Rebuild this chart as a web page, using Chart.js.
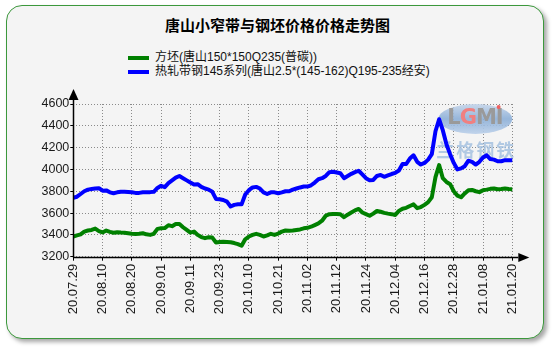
<!DOCTYPE html>
<html>
<head>
<meta charset="utf-8">
<script src="https://cdn.jsdelivr.net/npm/chart.js@4.4.1/dist/chart.umd.min.js"></script>
<style>
  body { margin: 0; background: #fff; width: 555px; height: 347px; overflow: hidden; }
  #panel {
    position: absolute; left: 6px; top: 5px; width: 536px; height: 332px;
    border: 1.5px solid #3c983c; border-radius: 16px; background: #f4f4f4;
    box-shadow: 3px 3px 4px rgba(0,0,0,0.35);
  }
  #title {
    position: absolute; left: 0; top: 15px; width: 555px; text-align: center;
    font: bold 15px "Noto Sans CJK SC", sans-serif; line-height: 20px; color: #000;
  }
  #legend {
    position: absolute; left: 128px; top: 50px;
    font: 12px "Liberation Sans", "Noto Sans CJK SC", sans-serif; color: #111;
  }
  .legend-row { height: 14px; line-height: 14px; white-space: nowrap; }
  .legend-swatch {
    display: inline-block; width: 21px; height: 4px; margin-right: 6px; vertical-align: middle;
  }
  canvas { position: absolute; left: 0; top: 0; }
</style>
</head>
<body>
<div id="panel"></div>
<div id="title">唐山小窄带与钢坯价格价格走势图</div>
<div id="legend"></div>
<canvas id="priceChart" width="555" height="347"></canvas>
<script>
const TICK_DATES = [
  '20.07.29', '20.08.10', '20.08.20', '20.09.01', '20.09.11', '20.09.23', '20.10.10', '20.10.21',
  '20.11.02', '20.11.12', '20.11.24', '20.12.04', '20.12.16', '20.12.28', '21.01.08', '21.01.20'
];
const DAYS_PER_TICK = 8;

// 方坯 (唐山150*150Q235 普碳), one value per trading day
const BILLET = [
  3385, 3395, 3405, 3430, 3440, 3445, 3458, 3435, 3422, 3440,
  3428, 3420, 3425, 3422, 3420, 3415, 3410, 3408, 3410, 3415,
  3405, 3400, 3410, 3455, 3460, 3462, 3488, 3480, 3500, 3500,
  3470, 3445, 3420, 3430, 3400, 3380, 3370, 3378, 3375, 3330,
  3335, 3338, 3335, 3332, 3325, 3315, 3300, 3360, 3385, 3400,
  3410, 3400, 3385, 3395, 3410, 3400, 3412, 3430, 3440, 3438,
  3440, 3445, 3450, 3460, 3465, 3475, 3490, 3505, 3530, 3575,
  3590, 3592, 3592, 3590, 3562, 3585, 3605, 3625, 3638, 3605,
  3590, 3575, 3595, 3620, 3612, 3602, 3595, 3590, 3583, 3620,
  3640, 3648, 3665, 3680, 3645, 3655, 3675, 3700, 3745, 3930,
  4040, 3920, 3885, 3865, 3800, 3760, 3745, 3780, 3810, 3812,
  3800, 3792, 3810, 3815, 3822, 3825, 3818, 3820, 3825, 3820,
  3818
];

// 热轧带钢145系列 (唐山2.5*(145-162)Q195-235)
const STRIP = [
  3740, 3750, 3775, 3800, 3815, 3820, 3825, 3828, 3805, 3808,
  3790, 3782, 3790, 3795, 3795, 3793, 3790, 3785, 3785, 3790,
  3790, 3792, 3795, 3830, 3850, 3838, 3875, 3900, 3925, 3940,
  3920, 3900, 3880, 3862, 3865, 3840, 3825, 3815, 3795, 3730,
  3727, 3720, 3705, 3660, 3675, 3680, 3680, 3770, 3810, 3835,
  3840, 3825, 3790, 3775, 3790, 3790, 3782, 3790, 3800, 3800,
  3815, 3825, 3835, 3843, 3843, 3855, 3880, 3910, 3920, 3940,
  3975, 3978, 3972, 3965, 3920, 3940, 3960, 3975, 3988, 3955,
  3920, 3900, 3904, 3940, 3950, 3932, 3945, 3958, 3968, 3990,
  4050, 4050, 4100, 4130, 4070, 4045, 4060, 4090, 4140, 4350,
  4460, 4360, 4230, 4140, 4060, 4000, 4010, 4030, 4080, 4070,
  4045, 4070, 4110, 4130, 4095, 4090, 4075, 4075, 4085, 4085,
  4085
];

const SERIES = [
  { label: '方坯(唐山150*150Q235(普碳))', data: BILLET, color: '#008000' },
  { label: '热轧带钢145系列(唐山2.5*(145-162)Q195-235经安)', data: STRIP, color: '#0000ff' }
];

const toPoints = values => values.map((y, x) => ({ x, y }));

// black axis lines with arrow heads on top of everything
const axisArrows = {
  id: 'axisArrows',
  afterDraw(chart) {
    const { ctx, chartArea: a } = chart;
    const x0 = Math.round(a.left) + 0.5;
    const y0 = Math.round(a.bottom) + 0.5;
    ctx.save();
    ctx.strokeStyle = '#000';
    ctx.fillStyle = '#000';
    ctx.lineWidth = 1.5;
    ctx.beginPath();
    ctx.moveTo(x0, y0);
    ctx.lineTo(x0, a.top - 4);
    ctx.moveTo(x0, y0);
    ctx.lineTo(a.right + 6, y0);
    ctx.stroke();

    ctx.beginPath();
    ctx.moveTo(x0, a.top - 15);
    ctx.lineTo(x0 - 5, a.top - 4);
    ctx.lineTo(x0 + 5, a.top - 4);
    ctx.closePath();
    ctx.fill();

    ctx.beginPath();
    ctx.moveTo(a.right + 17, y0);
    ctx.lineTo(a.right + 6, y0 - 4.5);
    ctx.lineTo(a.right + 6, y0 + 4.5);
    ctx.closePath();
    ctx.fill();
    ctx.restore();
  }
};

// faint LGMI mark in the upper right corner of the plot
const brandMark = {
  id: 'brandMark',
  beforeDatasetsDraw(chart) {
    const { ctx, chartArea: a } = chart;
    const cx = a.right - 37, cy = a.top + 15;
    ctx.save();
    const g = ctx.createLinearGradient(0, cy - 16, 0, cy + 16);
    g.addColorStop(0, 'rgba(200,215,235,0.9)');
    g.addColorStop(0.5, 'rgba(140,175,215,0.9)');
    g.addColorStop(1, 'rgba(190,210,235,0.9)');
    ctx.fillStyle = g;
    ctx.beginPath();
    ctx.ellipse(cx, cy, 37, 15, 0, 0, Math.PI * 2);
    ctx.fill();

    ctx.font = 'bold 21px "DejaVu Sans", sans-serif';
    ctx.textBaseline = 'middle';
    ctx.textAlign = 'left';
    const parts = [['L', '#9a9a9a'], ['G', '#f08080'], ['M', '#9a9a9a'], ['I', '#9a9a9a']];
    let x = cx - 28;
    parts.forEach(([ch, color]) => {
      ctx.fillStyle = color;
      ctx.fillText(ch, x, cy);
      x += ctx.measureText(ch).width - 1;
    });
    ctx.fillStyle = '#f06060';
    ctx.beginPath();
    ctx.arc(x - 4, cy - 12, 2, 0, Math.PI * 2);
    ctx.fill();

    ctx.font = 'bold 18px "Noto Sans CJK SC", sans-serif';
    ctx.fillStyle = 'rgba(160,190,222,0.8)';
    ctx.textAlign = 'center';
    ['兰', '格', '钢', '铁'].forEach((ch, i) => {
      ctx.fillText(ch, cx - 30 + i * 20, cy + 31);
    });
    ctx.restore();
  }
};

function renderLegend() {
  const el = document.getElementById('legend');
  el.innerHTML = SERIES.map(s => `
    <div class="legend-row"><span class="legend-swatch" style="background:${s.color}"></span>${s.label}</div>
  `).join('');
}

function renderChart() {
  new Chart(document.getElementById('priceChart'), {
    type: 'line',
    data: {
      datasets: SERIES.map(s => ({
        label: s.label,
        data: toPoints(s.data),
        borderColor: s.color,
        backgroundColor: s.color,
        borderWidth: 4,
        pointRadius: 0,
        tension: 0,
        borderJoinStyle: 'round',
        borderCapStyle: 'round',
        fill: false
      }))
    },
    options: {
      responsive: false,
      animation: false,
      layout: { padding: { left: 0, top: 104, right: 42.7, bottom: 0 } },
      plugins: {
        legend: { display: false },
        title: { display: false },
        tooltip: { enabled: false }
      },
      scales: {
        x: {
          type: 'linear',
          min: 0,
          max: (TICK_DATES.length - 1) * DAYS_PER_TICK,
          afterFit: scale => { scale.height = 90.3; },
          border: { display: false, dash: [1, 2] },
          grid: { color: '#8a8a8a', tickColor: '#000', tickLength: 4, tickBorderDash: [] },
          ticks: {
            stepSize: DAYS_PER_TICK,
            autoSkip: false,
            minRotation: 90,
            maxRotation: 90,
            padding: 3,
            color: '#1a1a1a',
            font: { family: '"Liberation Sans", Arial, sans-serif', size: 13 },
            callback: v => TICK_DATES[v / DAYS_PER_TICK]
          }
        },
        y: {
          min: 3200,
          max: 4600,
          afterFit: scale => { scale.width = 73.3; },
          border: { display: false, dash: [1, 2] },
          grid: { color: '#8a8a8a', tickColor: '#000', tickLength: 3, tickBorderDash: [] },
          ticks: {
            stepSize: 200,
            padding: 1,
            color: '#1a1a1a',
            font: { family: '"Liberation Sans", Arial, sans-serif', size: 12.5 },
            callback: v => String(v)
          }
        }
      }
    },
    plugins: [brandMark, axisArrows]
  });
}

document.addEventListener('DOMContentLoaded', () => {
  renderLegend();
  renderChart();
});
</script>
</body>
</html>
